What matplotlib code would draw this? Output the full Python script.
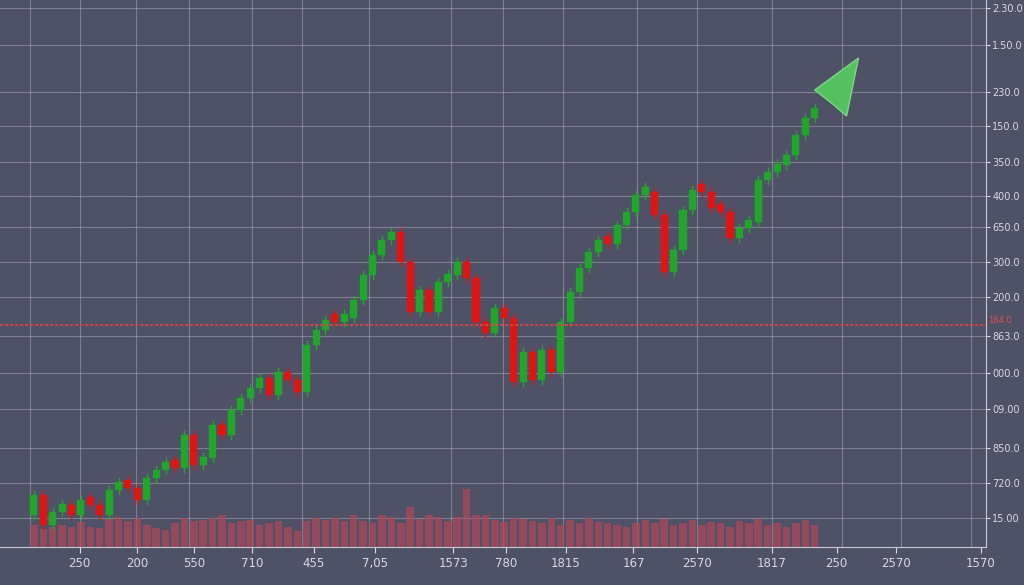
import matplotlib
matplotlib.use("Agg")
import matplotlib.pyplot as plt
import numpy as np
from matplotlib.patches import Polygon

# closes in chart units (pixel-height scale, 547 = bottom)
close_px = [495,525,512,505,515,500,505,515,490,485,488,500,478,470,462,468,435,465,458,425,
            435,410,398,388,378,395,372,380,392,345,330,320,322,318,300,275,255,240,232,262,
            312,290,312,282,275,262,278,322,333,308,318,382,352,380,350,372,322,292,268,252,
            240,244,225,212,195,192,215,272,250,210,190,192,208,212,238,228,222,180,172,165,
            155,135,118,108]
volumes = [22,18,20,22,20,25,20,19,28,30,26,29,22,19,17,24,29,26,27,29,
           32,24,26,27,22,24,26,20,16,26,29,27,29,26,32,26,24,32,30,24,
           40,28,32,30,26,30,58,32,32,27,25,29,28,26,24,29,22,27,24,29,
           25,24,22,20,24,27,24,28,22,24,27,22,25,24,20,26,24,28,22,24,
           20,24,27,22]
xtick_labels = ["250","200","550","710","455","7,05","1573","780","1815","167","2570","1817","250","2570","1570"]
ytick_labels = ["2.30.0","1.50.0","230.0","150.0","350.0","400.0","650.0","300.0","200.0",
                "863.0","000.0","09.00","850.0","720.0","15.00"]

W, H = 1024, 585
BG = "#4f5166"
fig = plt.figure(figsize=(W/100, H/100), dpi=100, facecolor=BG)
ax = fig.add_axes([0, 38/H, 986/W, 547/H], facecolor=BG)
ax.set_xlim(0, 990)
ax.set_ylim(0, 547)

xt_pos = [80,138,195,253,315,377,455,508,568,636,700,775,840,900,985]
yt_pix = [8,45,92,126,162,196,227,262,297,336,373,409,448,483,518]
vgrid = [30,80,137,190,253,303,370,453,505,565,640,700,775,845,905,975]
for x in vgrid:
    ax.axvline(x, color="#b8bac8", lw=0.8, alpha=0.45, zorder=0)
for y in yt_pix:
    ax.axhline(547-y, color="#b8bac8", lw=0.8, alpha=0.45, zorder=0)

n = len(close_px)
xs = 34 + np.arange(n) * (818-34)/(n-1)
closes = 547 - np.array(close_px)
opens = np.concatenate([[closes[0]-20], closes[:-1]])
step = xs[1]-xs[0]
for i in range(n):
    o, c = opens[i], closes[i]
    col = "#22a52c" if c >= o else "#dd1515"
    lo, hi = min(o, c), max(o, c)
    if hi - lo < 8:
        hi = lo + 8
    ax.plot([xs[i], xs[i]], [lo-4, hi+4], color=col, lw=1, zorder=2)
    ax.bar(xs[i], hi-lo, bottom=lo, width=step*0.75, color=col, zorder=3, edgecolor=col, lw=0.3)
    ax.bar(xs[i], volumes[i], bottom=0, width=step*0.8, color="#b04858", alpha=0.7, zorder=1)

ax.axhline(547-325, color="#d84848", lw=1.2, ls=(0, (2, 1)), zorder=4)

arrow = Polygon([[818, 547-90], [862, 547-58], [850, 547-116], [836, 547-104]], closed=True,
                facecolor="#55c060", edgecolor="#7ad884", lw=1, zorder=5)
ax.add_patch(arrow)

for s in ["top", "left"]:
    ax.spines[s].set_visible(False)
ax.spines["right"].set_color("#c8cad6")
ax.spines["bottom"].set_color("#c8cad6")
ax.yaxis.tick_right()
ax.set_yticks([547-y for y in yt_pix])
ax.set_yticklabels(ytick_labels)
ax.set_xticks(xt_pos)
ax.set_xticklabels(xtick_labels)
ax.tick_params(axis="x", colors="#d8d9e2", labelsize=8.5, length=4)
ax.tick_params(axis="y", colors="#d8d9e2", labelsize=7, length=3, pad=1.5)
ax.text(1.002, (547-325)/547, "164.0", transform=ax.transAxes, color="#e05050",
        fontsize=6, va="bottom", ha="left")
fig.savefig("out.png", dpi=100, facecolor=BG)
